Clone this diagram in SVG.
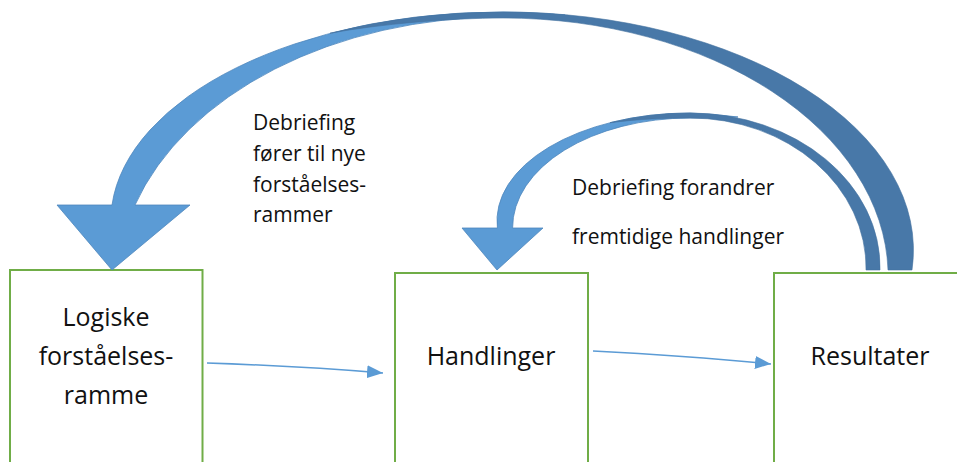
<svg xmlns="http://www.w3.org/2000/svg" width="957" height="462" viewBox="0 0 957 462">
<defs>
<style>
.box{fill:#fff;stroke:#70AD47;stroke-width:2}
.nt{font-family:"Open Sans","Noto Sans","Liberation Sans",sans-serif;font-size:25px;fill:#111;text-anchor:middle}
.lt{font-family:"Open Sans","Noto Sans","Liberation Sans",sans-serif;font-size:21px;fill:#111}
.light{fill:#5B9BD5;stroke:#4E86BD;stroke-width:0.8;stroke-linejoin:round}
.dark{fill:#4878A8;stroke:#44729F;stroke-width:0.6}
.ln{fill:none;stroke:#5B9BD5;stroke-width:1.5}
</style>
<marker id="ah" markerUnits="userSpaceOnUse" markerWidth="16" markerHeight="13" refX="16" refY="6.5" orient="auto">
<path d="M0,0 L16,6.5 L0,13 Z" fill="#5B9BD5"/>
</marker>
</defs>
<rect width="957" height="462" fill="#fff"/>
<g id="node-logiske">
<rect class="box" x="10" y="270" width="192.5" height="220"/>
<text class="nt" x="106" y="326">Logiske</text>
<text class="nt" x="106" y="365">forståelses-</text>
<text class="nt" x="106" y="404">ramme</text>
</g>
<g id="node-handlinger">
<rect class="box" x="395" y="273" width="193" height="220"/>
<text class="nt" x="491" y="365">Handlinger</text>
</g>
<g id="node-resultater">
<rect class="box" x="774" y="273" width="193" height="220"/>
<text class="nt" x="870" y="365">Resultater</text>
</g>
<g id="connectors">
<path class="ln" d="M207,363 Q300,366 383,373" marker-end="url(#ah)"/>
<path class="ln" d="M593,351 Q690,356 771,364" marker-end="url(#ah)"/>
<g id="feedback-outer">
<path class="light" d="M57,205 L112,205 A392.2,209.2 0 0 1 503,12 Q540,12.5 565,15 Q535,16.5 503,17 A385.8,268.7 0 0 0 135,205 L190,205 L112,270 Z"/>
<path class="dark" d="M912,270 A410,238 0 0 0 503,12 A392.2,209.2 0 0 0 330,33.2 C380,24 450,18 503,18 A385.2,258 0 0 1 888,270 Z"/>
</g>
<g id="feedback-inner">
<path class="light" d="M462,228 L497.4,228 A193,107.8 0 0 1 690,113 Q715,114 738,117 Q715,118 690,118 A177.4,109.6 0 0 0 512.6,228 L543,228 L497,270 Z"/>
<path class="dark" d="M880,270 A190,154.3 0 0 0 690,113 A193,107.8 0 0 0 610,122.7 C640,119 665,118 690,118 A176,149.7 0 0 1 866,270 Z"/>
</g>
<g id="labels">
<text class="lt" x="253" y="130">Debriefing</text>
<text class="lt" x="253" y="161">fører til nye</text>
<text class="lt" x="253" y="192">forståelses-</text>
<text class="lt" x="253" y="222">rammer</text>
<text class="lt" x="572" y="195">Debriefing forandrer</text>
<text class="lt" x="572" y="244">fremtidige handlinger</text>
</g>
</g>
</svg>
